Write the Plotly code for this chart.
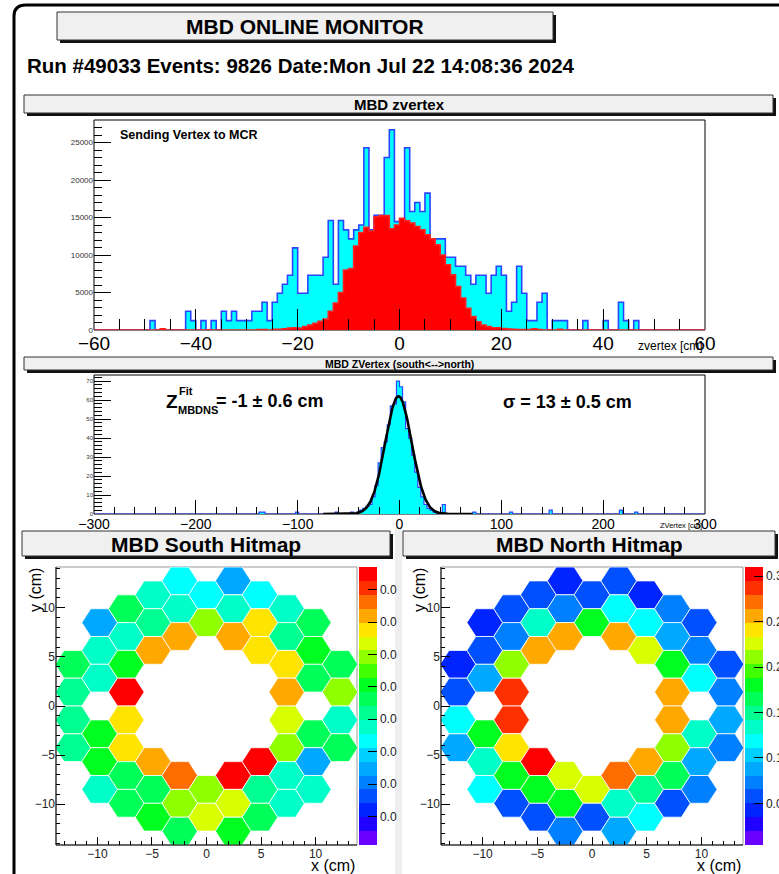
import numpy as np
import plotly.graph_objects as go

W, H = 779, 874
FONT = "Liberation Sans, Arial, Helvetica, sans-serif"

# ---------------- data ----------------
# MBD zvertex histogram (1 cm bins, -60..60)
zv_bin_lo = list(range(-60, 60))
zv_cyan = ([0] * 11 + [1250] + [0] * 6 +
           [2500, 1250, 0, 1250, 0, 1250, 0, 2500, 1250, 2500, 1250, 1250, 1250, 2500, 2500, 3700,
            1250, 3700, 4900, 6100, 7300, 10950, 4900, 4900, 7300, 7300, 7300, 9700, 14600, 6100,
            14600, 13350, 12150, 13350, 14000, 24300, 13350, 15300, 15300, 23000, 26700, 14450,
            14450, 24300, 15800, 17000, 15800, 18250, 12150, 12150, 12150, 9700, 9700, 8500, 8500,
            7300, 6100, 7300, 7300, 4900, 7300, 8500, 7300, 2500, 3700, 8500, 4900, 1250, 1250,
            3700, 4900, 0, 1250, 1250, 1250, 0, 0, 0, 1250, 0, 0, 0, 1250, 0, 0, 3700, 1250, 0,
            1250] + [0] * 13)
zv_red = ([0] * 13 + [150] + [0] * 18 +
          [60, 60, 0, 100, 100, 150, 250, 300, 250, 450, 650, 900, 1150, 1450, 2500, 3600, 5000,
           8000, 8200, 11200, 13000, 13700, 13200, 15100, 15250, 15250, 13500, 14000, 14900,
           14550, 14250, 13800, 13350, 12700, 12150, 11350, 10000, 8700, 7350, 5800, 4250, 2900,
           1800, 1100, 650, 450, 300, 300, 200, 130, 80, 60, 50, 50, 150, 50, 0, 0, 0, 100] +
          [0] * 28)

# MBD ZVertex (south<-->north), 3 cm bins, only non-empty bins listed
ns_bin_lo = [-138, -135, -102, -63, -48, -42, -39, -36, -33, -30, -27, -24, -21, -18, -15, -12,
             -9, -6, -3, 0, 3, 6, 9, 12, 15, 18, 21, 24, 27, 30, 33, 42, 72, 108, 147, 216, 231]
ns_counts = [1, 1, 1, 1, 1, 1, 2, 3, 4, 5, 9, 15, 27, 35, 38, 47, 57, 58, 70, 67, 59, 45, 40, 31,
             22, 14, 9, 5, 3, 2, 1, 5, 1, 1, 2, 2, 1]
fit_mean, fit_sigma, fit_amp = -1.0, 13.0, 62.0
fit_lo, fit_hi = -75.0, 72.0

# PMT positions (cm), same for both arms
pmt_x = ([-12.25] * 4 + [-9.8] * 6 + [-7.35] * 8 + [-4.9] * 6 + [-2.45] * 6 + [0.0] * 4 +
         [2.45] * 6 + [4.9] * 6 + [7.35] * 8 + [9.8] * 6 + [12.25] * 4)
pmt_y = ([4.245, 1.415, -1.415, -4.245] +
         [8.49, 5.66, 2.83, -2.83, -5.66, -8.49] +
         [9.905, 7.075, 4.245, 1.415, -1.415, -4.245, -7.075, -9.905] +
         [11.32, 8.49, 5.66, -5.66, -8.49, -11.32] +
         [12.735, 9.905, 7.075, -7.075, -9.905, -12.735] +
         [11.32, 8.49, -8.49, -11.32] +
         [12.735, 9.905, 7.075, -7.075, -9.905, -12.735] +
         [11.32, 8.49, 5.66, -5.66, -8.49, -11.32] +
         [9.905, 7.075, 4.245, 1.415, -1.415, -4.245, -7.075, -9.905] +
         [8.49, 5.66, 2.83, -2.83, -5.66, -8.49] +
         [4.245, 1.415, -1.415, -4.245])
south_hits = ([0.046, 0.042, 0.042, 0.042] +
              [0.025, 0.038, 0.038, 0.051, 0.051, 0.038] +
              [0.046, 0.038, 0.051, 0.085, 0.068, 0.068, 0.046, 0.046] +
              [0.038, 0.042, 0.072, 0.072, 0.046, 0.051] +
              [0.033, 0.038, 0.072, 0.076, 0.059, 0.046] +
              [0.033, 0.059, 0.059, 0.063] +
              [0.025, 0.038, 0.072, 0.085, 0.063, 0.051] +
              [0.033, 0.068, 0.068, 0.085, 0.042, 0.046] +
              [0.038, 0.042, 0.068, 0.072, 0.063, 0.059, 0.038, 0.038] +
              [0.046, 0.051, 0.046, 0.046, 0.025, 0.038] +
              [0.046, 0.059, 0.038, 0.046])
north_hits = ([0.042, 0.058, 0.119, 0.088] +
              [0.042, 0.058, 0.088, 0.180, 0.134, 0.119] +
              [0.058, 0.073, 0.211, 0.287, 0.287, 0.241, 0.180, 0.058] +
              [0.058, 0.134, 0.257, 0.302, 0.180, 0.058] +
              [0.042, 0.073, 0.257, 0.226, 0.180, 0.073] +
              [0.058, 0.180, 0.226, 0.058] +
              [0.058, 0.119, 0.257, 0.272, 0.134, 0.088] +
              [0.042, 0.119, 0.226, 0.257, 0.150, 0.119] +
              [0.073, 0.088, 0.180, 0.257, 0.257, 0.211, 0.165, 0.058] +
              [0.058, 0.073, 0.119, 0.134, 0.088, 0.073] +
              [0.058, 0.073, 0.088, 0.073])
south_zrange = (0.0012, 0.0870)
north_zrange = (0.0042, 0.3100)
south_ticks = [0.01, 0.02, 0.03, 0.04, 0.05, 0.06, 0.07, 0.08]
north_ticks = [0.05, 0.10, 0.15, 0.20, 0.25, 0.30]

# ---------------- style ----------------
PAL = ["#6a00ff", "#2000ff", "#0024ff", "#0050ff", "#0080ff", "#00a8ff", "#00d0ff", "#00ffff",
       "#00ffc8", "#00ff90", "#00ff58", "#00ff20", "#40ff00", "#90ff00", "#d8ff00", "#ffe400",
       "#ffa800", "#ff6c00", "#ff3000", "#ff0000"]
HEX_SIDE = 1.633


def X(px):
    return px / W


def Y(py):
    return 1 - py / H


fig = go.Figure()

# ---- upper histogram
edges = zv_bin_lo + [zv_bin_lo[-1] + 1]
fig.add_trace(go.Scatter(x=edges, y=zv_cyan + [zv_cyan[-1]], mode="lines", line_shape="hv",
                         fill="tozeroy", fillcolor="#00ffff",
                         line=dict(color="#2b45ff", width=1.6), hoverinfo="skip",
                         showlegend=False, xaxis="x", yaxis="y"))
fig.add_trace(go.Scatter(x=edges, y=zv_red + [zv_red[-1]], mode="lines", line_shape="hv",
                         fill="tozeroy", fillcolor="#ff0000",
                         line=dict(color="#ff2020", width=1.6), hoverinfo="skip",
                         showlegend=False, xaxis="x", yaxis="y"))

# ---- middle histogram
ns_edges = list(range(-300, 301, 3))
cmap = dict(zip(ns_bin_lo, ns_counts))
ns_full = [cmap.get(e, 0) for e in ns_edges[:-1]]
fig.add_trace(go.Scatter(x=ns_edges, y=ns_full + [ns_full[-1]], mode="lines", line_shape="hv",
                         fill="tozeroy", fillcolor="#00ffff",
                         line=dict(color="#2b45ff", width=1.2), hoverinfo="skip",
                         showlegend=False, xaxis="x2", yaxis="y2"))
fx = np.linspace(fit_lo, fit_hi, 300)
fy = fit_amp * np.exp(-0.5 * ((fx - fit_mean) / fit_sigma) ** 2)
fig.add_trace(go.Scatter(x=fx, y=fy, mode="lines", line=dict(color="black", width=2.6),
                         hoverinfo="skip", showlegend=False, xaxis="x2", yaxis="y2"))

# ---- hitmaps
cs = []
for i, c in enumerate(PAL):
    cs += [[i / 20, c], [(i + 1) / 20, c]]

ang = np.deg2rad(np.arange(0, 361, 60))


def add_hitmap(vals, zr, xa, ya, cb_x, ticks, ticktext):
    zmin, zmax = zr
    for cx, cy, v in zip(pmt_x, pmt_y, vals):
        lvl = int((v - zmin) / (zmax - zmin) * 20)
        lvl = min(19, max(0, lvl))
        fig.add_trace(go.Scatter(x=cx + HEX_SIDE * np.cos(ang), y=cy + HEX_SIDE * np.sin(ang),
                                 mode="lines", fill="toself", fillcolor=PAL[lvl],
                                 line=dict(color="white", width=0.8), hoverinfo="skip",
                                 showlegend=False, xaxis=xa, yaxis=ya))
    fig.add_trace(go.Scatter(
        x=[500], y=[500], mode="markers", xaxis=xa, yaxis=ya, showlegend=False, hoverinfo="skip",
        marker=dict(color=[zmin], colorscale=cs, cmin=zmin, cmax=zmax, showscale=True,
                    colorbar=dict(x=X(cb_x), xanchor="left", y=Y(706), yanchor="middle",
                                  len=278, lenmode="pixels", thickness=18,
                                  thicknessmode="pixels", xpad=0, ypad=0, outlinewidth=0,
                                  ticks="inside", ticklen=9, tickcolor="black",
                                  tickvals=ticks, ticktext=ticktext,
                                  tickfont=dict(size=12, color="#222", family=FONT)))))


add_hitmap(south_hits, south_zrange, "x3", "y3", 359, south_ticks, ["0.0"] * len(south_ticks))
add_hitmap(north_hits, north_zrange, "x4", "y4", 745, north_ticks,
           ["%.2f" % t for t in north_ticks])

# ---------------- axes ----------------
def ax(domain, rng, dtick, ticklen, mdtick, mticklen, fsize, fcolor="black", fmt=None):
    d = dict(domain=domain, range=rng, tick0=rng[0] if fmt is None else 0, dtick=dtick,
             ticks="inside", ticklen=ticklen, tickcolor="black", tickwidth=1,
             minor=dict(dtick=mdtick, ticklen=mticklen, ticks="inside", tickcolor="black",
                        tickwidth=1, showgrid=False),
             showgrid=False, zeroline=False, showline=False,
             tickfont=dict(size=fsize, color=fcolor, family=FONT), fixedrange=True)
    if fmt:
        d["tickformat"] = fmt
    return d


layout_axes = dict(
    xaxis=ax([X(94), X(705)], [-60, 60], 20, 21, 5, 11, 19),
    yaxis=ax([Y(330), Y(120)], [0, 28000], 5000, 17, 1000, 8, 8, "#333", "d"),
    xaxis2=ax([X(94), X(705)], [-300, 300], 100, 14, 20, 7, 14),
    yaxis2=ax([Y(514), Y(375)], [0, 73.2], 10, 17, 2, 8, 6, "#333", "d"),
    xaxis3=ax([X(56), X(357)], [-13.8, 13.8], 5, 8, 1, 4, 12, "#222", "d"),
    yaxis3=ax([Y(845), Y(567)], [-14.15, 14.15], 5, 9, 1, 4, 12, "#222", "d"),
    xaxis4=ax([X(441), X(743)], [-13.8, 13.8], 5, 8, 1, 4, 12, "#222", "d"),
    yaxis4=ax([Y(845), Y(567)], [-14.15, 14.15], 5, 9, 1, 4, 12, "#222", "d"),
)
for k in ("yaxis", "yaxis2", "yaxis3", "yaxis4"):
    layout_axes[k]["anchor"] = "x" + k[5:]
for k in ("xaxis", "xaxis2", "xaxis3", "xaxis4"):
    layout_axes[k]["anchor"] = "y" + k[5:]

# ---------------- shapes ----------------
shapes = []


def prect(x0, y0, x1, y1, fill, line=None, lw=0, layer="above"):
    shapes.append(dict(type="rect", xref="paper", yref="paper", x0=X(x0), x1=X(x1),
                       y0=Y(y1), y1=Y(y0), fillcolor=fill,
                       line=dict(color=line or fill, width=lw), layer=layer))


def titlebox(x0, y0, x1, y1, off=3):
    prect(x0 + off, y0 + off, x1 + off, y1 + off, "#111111")
    prect(x0, y0, x1, y1, "#f0f0f0", "#333333", 1)


# gray strip between bottom pads
prect(395, 527, 402, 874, "#eeeeee", layer="below")
# outer frame
shapes.append(dict(type="path", xref="paper", yref="paper",
                   path="M %f,%f L %f,%f Q %f,%f %f,%f L %f,%f" % (
                       X(14), Y(874), X(14), Y(16), X(14), Y(5), X(26), Y(5), X(779), Y(5)),
                   line=dict(color="black", width=3)))
titlebox(57, 12, 553, 40)
titlebox(24, 95, 773, 113)
titlebox(24, 357, 773, 370, off=3)
titlebox(22, 531, 390, 556)
titlebox(403, 531, 775, 556)

# plot frames
for xa, ya in (("x", "y"), ("x2", "y2")):
    shapes.append(dict(type="rect", xref=xa + " domain", yref=ya + " domain", x0=0, x1=1, y0=0,
                       y1=1, line=dict(color="black", width=1), layer="below"))
for xa, ya in (("x3", "y3"), ("x4", "y4")):
    shapes.append(dict(type="rect", xref=xa + " domain", yref=ya + " domain", x0=0, x1=1, y0=0,
                       y1=1, line=dict(color="#999999", width=1), layer="below"))
    shapes.append(dict(type="line", xref=xa + " domain", yref=ya + " domain", x0=0, x1=0, y0=0,
                       y1=1, line=dict(color="black", width=1), layer="above"))
    shapes.append(dict(type="line", xref=xa + " domain", yref=ya + " domain", x0=0, x1=1, y0=0,
                       y1=0, line=dict(color="black", width=1), layer="above"))

# ---------------- text ----------------
ann = []


def text(px, py, s, size, xanchor="center", yanchor="middle", bold=False, color="black",
         angle=0):
    ann.append(dict(xref="paper", yref="paper", x=X(px), y=Y(py), text=("<b>%s</b>" % s) if bold
                    else s, showarrow=False, xanchor=xanchor, yanchor=yanchor, textangle=angle,
                    font=dict(size=size, color=color, family=FONT)))


text(305, 26, "MBD ONLINE MONITOR", 21, bold=True)
text(25, 66, "Run #49033 Events: 9826 Date:Mon Jul 22 14:08:36 2024", 20.5, xanchor="left",
     bold=True)
text(399, 104, "MBD zvertex", 15, bold=True)
text(118, 135, "Sending Vertex to MCR", 12.5, xanchor="left", bold=True)
text(705, 346, "zvertex [cm]", 12, xanchor="right")
text(399, 364, "MBD ZVertex (south&lt;--&gt;north)", 10.5, bold=True)
text(164, 401, "Z", 19, xanchor="left", bold=True)
text(177, 391, "Fit", 11, xanchor="left", bold=True)
text(176, 410, "MBDNS", 11, xanchor="left", bold=True)
text(214, 401, "= -1 ± 0.6 cm", 18, xanchor="left", bold=True)
text(501, 402, "σ = 13 ± 0.5 cm", 18, xanchor="left", bold=True)
text(704, 525, "ZVertex [cm]", 7.5, xanchor="right")
text(206, 544, "MBD South Hitmap", 21, bold=True)
text(589, 544, "MBD North Hitmap", 21, bold=True)
for xr in (357, 743):
    text(xr, 865, "x (cm)", 16, xanchor="right")
for xc in (35, 419):
    text(xc, 566, "y (cm)", 16, yanchor="top", angle=-90)

fig.update_layout(width=W, height=H, margin=dict(l=0, r=0, t=0, b=0, autoexpand=False),
                  paper_bgcolor="white", plot_bgcolor="rgba(0,0,0,0)", showlegend=False,
                  shapes=shapes, annotations=ann, font=dict(family=FONT), **layout_axes)
fig.write_html("out.html", config={"displayModeBar": False},
               post_script="document.body.style.margin='0';document.body.style.overflow='hidden';")
